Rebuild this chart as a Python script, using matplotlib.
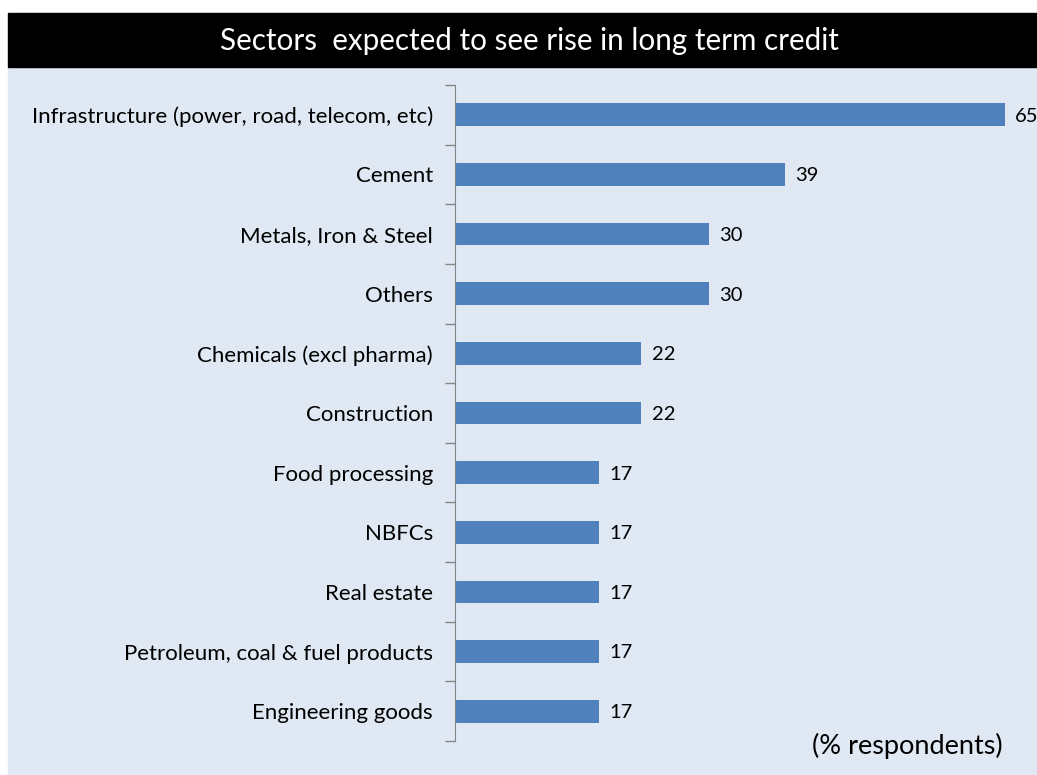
import matplotlib.pyplot as plt
from matplotlib.patches import Rectangle
import numpy as np

plt.rcParams['font.family'] = ['Lato', 'DejaVu Sans']

sectors = ['Infrastructure (power, road, telecom, etc)', 'Cement',
           'Metals, Iron & Steel', 'Others', 'Chemicals (excl pharma)',
           'Construction', 'Food processing', 'NBFCs', 'Real estate',
           'Petroleum, coal & fuel products', 'Engineering goods']
share = [65, 39, 30, 30, 22, 22, 17, 17, 17, 17, 17]

W, H = 1037, 775
fig = plt.figure(figsize=(W / 100, H / 100), dpi=100)

# panel background and black title strip (behind the axes)
fig.patches.append(Rectangle((8 / W, 0), 1 - 8 / W, 1 - 67 / H,
                             transform=fig.transFigure, color='#DFE8F3', zorder=-2))
fig.patches.append(Rectangle((8 / W, 1 - 67 / H), 1 - 8 / W, 54 / H,
                             transform=fig.transFigure, color='black', zorder=-2))
fig.text(529 / W, 1 - 41 / H, 'Sectors  expected to see rise in long term credit',
         color='white', fontsize=21.3, ha='center', va='center')

ax = fig.add_axes([455 / W, 1 - 741 / H, 582 / W, 656 / H])
ax.patch.set_visible(False)

y = np.arange(len(sectors))
ax.barh(y, share, height=0.38, color='#4F81BD')
for yi, v in zip(y, share):
    ax.annotate(str(v), xy=(v, yi), xytext=(7.5, -1), textcoords='offset points',
                va='center', ha='left', fontsize=14.5, color='black')

ax.set_xlim(0, 582 / 8.46)
ax.set_ylim(len(sectors) - 0.5, -0.5)
ax.set_yticks(np.arange(len(sectors) + 1) - 0.5)
ax.set_yticklabels([])
ax.set_yticks(y, minor=True)
ax.set_yticklabels(sectors, minor=True, fontsize=16)
ax.tick_params(axis='y', which='major', length=7, color='#868686', width=1)
ax.tick_params(axis='y', which='minor', length=0, pad=16)
ax.set_xticks([])
for s in ['top', 'right', 'bottom']:
    ax.spines[s].set_visible(False)
ax.spines['left'].set_color('#868686')

fig.text(1003 / W, 1 - 746 / H, '(% respondents)', fontsize=19.5,
         ha='right', va='center', color='black')

plt.savefig('out.png', dpi=100)
